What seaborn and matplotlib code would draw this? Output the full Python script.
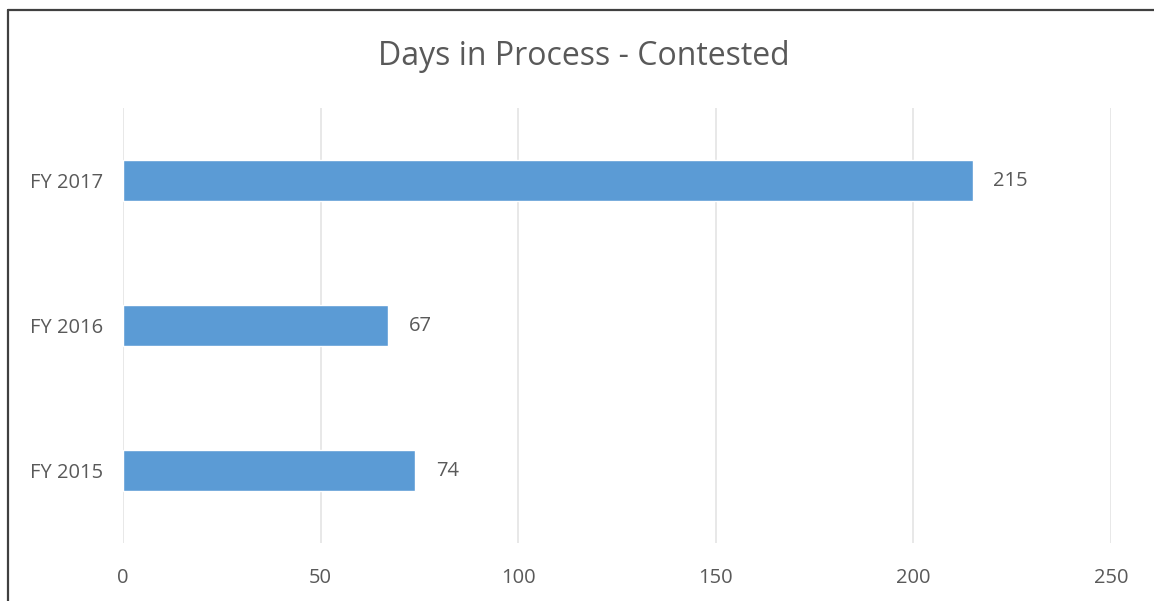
import matplotlib
matplotlib.use("Agg")
import matplotlib.pyplot as plt
from matplotlib.lines import Line2D
import seaborn as sns
import pandas as pd

categories = ["FY 2017", "FY 2016", "FY 2015"]
days = [215, 67, 74]
x_ticks = [0, 50, 100, 150, 200, 250]

sns.set_theme(style="white")
plt.rcParams["font.family"] = ["Open Sans", "DejaVu Sans"]

text_color = "#595959"
bar_color = "#5B9BD5"
grid_color = "#E2E2E2"

df = pd.DataFrame({"year": categories, "days": days})

fig = plt.figure(figsize=(11.54, 6.01), dpi=100)
ax = fig.add_axes([0.1066, 0.0965, 0.8561, 0.7238])

sns.barplot(data=df, x="days", y="year", order=categories, color=bar_color,
            width=0.285, saturation=1, ax=ax, zorder=3)

ax.set_xlim(0, 250)
ax.set_ylim(2.5, -0.5)
ax.set_xticks(x_ticks)
ax.set_xticklabels([str(t) for t in x_ticks])
ax.xaxis.grid(True, color=grid_color, linewidth=1.1, zorder=0)
ax.yaxis.grid(False)
for s in ax.spines.values():
    s.set_visible(False)
ax.tick_params(axis="x", length=0, pad=18, labelsize=14.5, labelcolor=text_color)
ax.tick_params(axis="y", length=0, pad=14, labelsize=14.5, labelcolor=text_color)
ax.set_xlabel("")
ax.set_ylabel("")

for container in ax.containers:
    ax.bar_label(container, labels=[str(v) for v in days], padding=15,
                 fontsize=14.5, color=text_color)

fig.text(0.5055, 0.906, "Days in Process - Contested", ha="center", va="center",
         fontsize=23, color=text_color)

# outer frame (left and top edges)
frame_color = "#404040"
fig.add_artist(Line2D([0.0068, 0.0068], [0.0, 0.984], transform=fig.transFigure,
                      color=frame_color, linewidth=1.6))
fig.add_artist(Line2D([0.0068, 1.0], [0.984, 0.984], transform=fig.transFigure,
                      color=frame_color, linewidth=1.6))

fig.savefig("out.png", dpi=100, facecolor="white")
